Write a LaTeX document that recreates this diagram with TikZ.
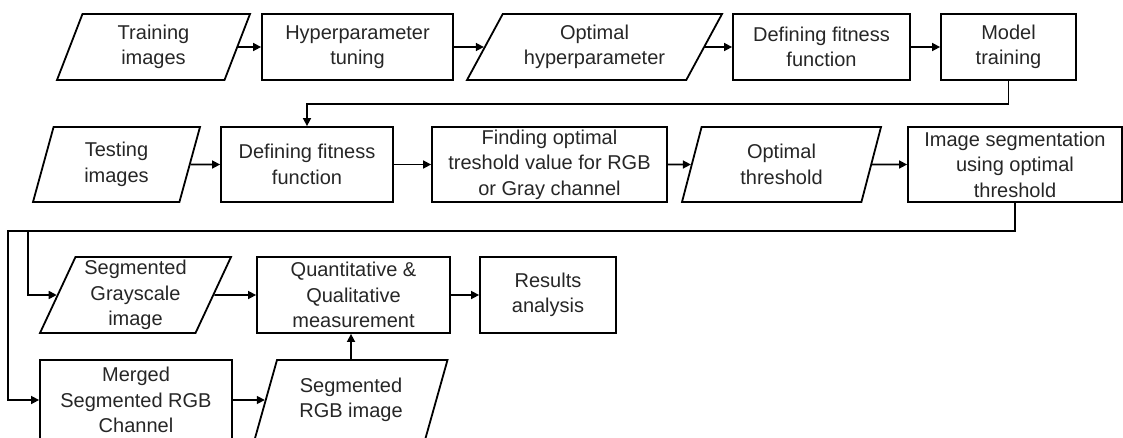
\documentclass[tikz,border=0pt]{standalone}
\usepackage{fontspec}
\setmainfont{Liberation Sans}
\usepackage{tikz}
\usetikzlibrary{arrows.meta, shapes.geometric}

\begin{document}
\begin{tikzpicture}[
    x=1pt, y=-1pt,
    box/.style  = {align=center, draw=black, line width=1.8pt, text=black!85,
                   font=\fontsize{20}{25.5}\selectfont, inner xsep=2pt, inner ysep=0pt},
    proc/.style 2 args = {box, rectangle, minimum width=#1, minimum height=#2},
    io/.style n args   = {3}{box, trapezium, trapezium stretches body,
                   trapezium left angle=#1, trapezium right angle=180-#1,
                   inner xsep=-20pt, minimum width=#2, minimum height=#3},
    arr/.style  = {-{Triangle[length=8pt, width=8pt]}, line width=1.6pt}
]
\useasboundingbox (0,0) rectangle (1123,437);
\clip (0,0) rectangle (1123,437);

%% Row 1 – training branch
\node[io={60}{193pt}{66pt}]   (train) at (153.5,47)  {Training\\images};
\node[proc={191pt}{66pt}]     (tune)  at (357.5,47)  {Hyperparameter\\tuning};
\node[io={51}{255pt}{66pt}]   (hyper) at (594.5,47)  {Optimal\\hyperparameter};
\node[proc={177pt}{66pt}]     (fitA)  at (821.5,47)  {Defining fitness\\function};
\node[proc={135pt}{66pt}]     (model) at (1008.5,47) {Model\\training};

%% Row 2 – threshold search on the test set
\node[io={65}{167pt}{75pt}]   (test)  at (116.5,164.5) {Testing\\images};
\node[proc={172pt}{75pt}]     (fitB)  at (307,164.5)   {Defining fitness\\function};
\node[proc={235pt}{75pt}]     (find)  at (549.5,164.5) {Finding optimal\\treshold value for RGB\\or Gray channel};
\node[io={64}{199pt}{75pt}]   (thr)   at (781.5,164.5) {Optimal\\threshold};
\node[proc={214pt}{75pt}]     (seg)   at (1015,164.5)  {Image segmentation\\using optimal\\threshold};

%% Row 3 / 4 – segmented outputs and evaluation
\node[io={63}{191pt}{76pt}]   (gray)  at (135.5,295) {Segmented\\Grayscale\\image};
\node[proc={193pt}{76pt}]     (meas)  at (353.5,295) {Quantitative \&\\Qualitative\\measurement};
\node[proc={136pt}{76pt}]     (res)   at (548,295)   {Results\\analysis};

\node[proc={192pt}{80pt}]     (merge) at (136,400)   {Merged\\Segmented RGB\\Channel};
\node[io={63}{193pt}{80pt}]   (rgb)   at (351,400)   {Segmented\\RGB image};

%% Straight arrows along each row
\draw[arr] (train) -- (tune);
\draw[arr] (tune)  -- (hyper);
\draw[arr] (hyper) -- (fitA);
\draw[arr] (fitA)  -- (model);

\draw[arr] (test) -- (fitB);
\draw[arr] (fitB) -- (find);
\draw[arr] (find) -- (thr);
\draw[arr] (thr)  -- (seg);

\draw[arr] (gray)  -- (meas);
\draw[arr] (meas)  -- (res);
\draw[arr] (merge) -- (rgb);
\draw[arr] (rgb.north) -- (rgb.north |- meas.south);

%% Return lines between rows
\draw[arr] (model.south) -- ++(0,23) -| (fitB.north);

\coordinate (rail) at (8,231);
\coordinate (tap)  at (28,231);
\draw[arr] (seg.south) |- (rail) |- (merge.west);
\draw[arr] (tap) |- (gray.west);

\end{tikzpicture}
\end{document}
